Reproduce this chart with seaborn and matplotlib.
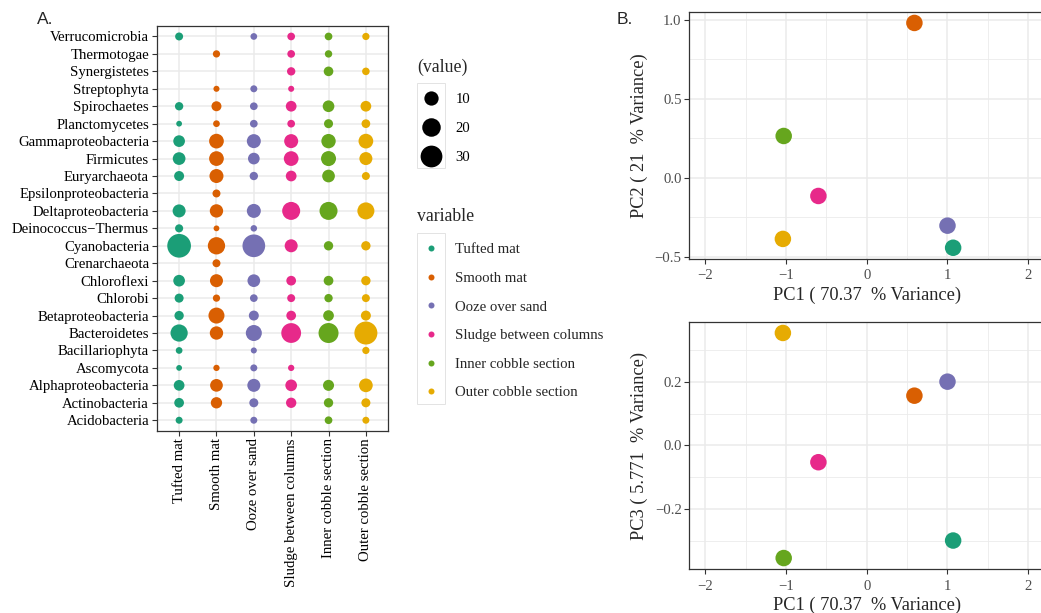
import numpy as np
import pandas as pd
import matplotlib
matplotlib.use("Agg")
import matplotlib.pyplot as plt
from matplotlib.lines import Line2D
from matplotlib.patches import Rectangle
from matplotlib.ticker import FixedLocator
import seaborn as sns

# ---- data -------------------------------------------------------------
phyla = [
    "Acidobacteria", "Actinobacteria", "Alphaproteobacteria", "Ascomycota",
    "Bacillariophyta", "Bacteroidetes", "Betaproteobacteria", "Chlorobi",
    "Chloroflexi", "Crenarchaeota", "Cyanobacteria", "Deinococcus\u2212Thermus",
    "Deltaproteobacteria", "Epsilonproteobacteria", "Euryarchaeota", "Firmicutes",
    "Gammaproteobacteria", "Planctomycetes", "Spirochaetes", "Streptophyta",
    "Synergistetes", "Thermotogae", "Verrucomicrobia",
]
sites = ["Tufted mat", "Smooth mat", "Ooze over sand", "Sludge between columns",
         "Inner cobble section", "Outer cobble section"]
site_colors = ["#1B9E77", "#D95F02", "#7570B3", "#E7298A", "#66A61E", "#E6AB02"]

nan = np.nan
# relative abundance (%) per phylum, one list per site, phyla in the order above
tufted_mat = [0.85, 3.1, 4.3, 0.3, 0.7, 16.6, 2.7, 2.4, 5.6, nan, 36.8, 1.6,
              7.7, nan, 3.4, 7.2, 5.6, 0.3, 1.8, nan, nan, nan, 1.5]
smooth_mat = [nan, 5.1, 7.2, 0.5, nan, 8.3, 13.7, 1.0, 7.7, 1.5, 16.8, 0.3,
              8.3, 1.5, 9.5, 10.9, 10.9, 0.7, 3.4, 0.4, nan, 1.0, nan]
ooze_over_sand = [0.85, 2.4, 7.7, 0.85, 0.4, 13.7, 3.4, 1.3, 7.2, nan, 33.2, 0.6,
                  9.5, nan, 1.8, 5.6, 9.5, 1.3, 1.3, 0.85, nan, nan, 0.7]
sludge_between_columns = [nan, 3.8, 5.6, 0.5, nan, 23.7, 3.1, 1.5, 3.1, nan, 7.7, nan,
                          18.6, nan, 4.3, 10.9, 9.5, 1.3, 4.3, 0.4, 1.8, 1.3, 1.3]
inner_cobble = [1.3, 2.7, 4.7, nan, nan, 24.3, 4.3, 1.8, 3.1, nan, 2.7, nan,
                18.6, nan, 7.2, 11.5, 10.2, 2.4, 5.6, nan, 3.0, 1.1, 1.3]
outer_cobble = [0.85, 2.4, 8.9, nan, 1.0, 34.3, 3.4, 1.5, 2.7, nan, 2.7, nan,
                16.1, nan, 1.5, 7.7, 10.9, 2.1, 4.3, nan, 1.2, nan, 1.0]

# principal component scores, one per site (same order as `sites`)
pc1 = [1.07, 0.59, 1.00, -0.60, -1.03, -1.04]
pc2 = [-0.443, 0.981, -0.303, -0.115, 0.265, -0.387]
pc3 = [-0.299, 0.156, 0.200, -0.053, -0.354, 0.353]
pc_var = {"PC1": "70.37", "PC2": "21", "PC3": "5.771"}

size_breaks = [10, 20, 30]

# ---- styling helpers --------------------------------------------------
sns.set_theme(style="white")
plt.rcParams["font.family"] = ["Liberation Serif", "DejaVu Serif"]
plt.rcParams["axes.unicode_minus"] = True

W, H, DPI = 1041, 613, 100
PX = 72.0 / DPI          # points per pixel
GRID = "#EBEBEB"
FRAME = "#333333"
TICKTXT = "#4D4D4D"
palette = dict(zip(sites, site_colors))


def bubble_diameter_pt(v):
    """Area-style size scale: diameter grows with sqrt of the value."""
    return (4.0 + 20.0 * np.sqrt(v / 38.0)) * PX


def bubble_area(v):
    return bubble_diameter_pt(v) ** 2


def style_frame(ax):
    for sp in ax.spines.values():
        sp.set_visible(True)
        sp.set_color(FRAME)
        sp.set_linewidth(0.9)
    ax.tick_params(which="major", direction="out", length=3.5, width=0.8,
                   color=FRAME, pad=2, bottom=True, left=True,
                   top=False, right=False)
    ax.tick_params(which="minor", length=0)
    ax.set_axisbelow(True)


fig = plt.figure(figsize=(W / DPI, H / DPI), dpi=DPI)
fig.patch.set_facecolor("white")

# ---- panel A: bubble chart -------------------------------------------
abund = pd.DataFrame({
    sites[0]: tufted_mat, sites[1]: smooth_mat, sites[2]: ooze_over_sand,
    sites[3]: sludge_between_columns, sites[4]: inner_cobble, sites[5]: outer_cobble,
}, index=phyla)
long = (abund.reset_index(names="phylum")
        .melt(id_vars="phylum", var_name="site", value_name="value")
        .dropna())
long["row"] = long["phylum"].map({p: i for i, p in enumerate(phyla)})
long["col"] = long["site"].map({s: i for i, s in enumerate(sites)})
size_lookup = {v: bubble_area(v) for v in long["value"].unique()}

axA = fig.add_axes([156.7 / W, 1 - 430.7 / H, 231.6 / W, 404.7 / H])
sns.scatterplot(data=long, x="col", y="row", hue="site", hue_order=sites,
                palette=palette, size="value", sizes=size_lookup,
                linewidth=0, alpha=1, legend=False, ax=axA, zorder=3)
axA.set_xlim(-0.6, len(sites) - 0.4)
axA.set_ylim(-0.6, len(phyla) - 0.4)
axA.set_xticks(range(len(sites)))
axA.set_xticklabels(sites, rotation=90, ha="center", va="top",
                    fontsize=10.6, color="black")
axA.set_yticks(range(len(phyla)))
axA.set_yticklabels(phyla, fontsize=10.6, color="black")
axA.set_xlabel("")
axA.set_ylabel("")
axA.grid(True, which="major", color=GRID, linewidth=1.1)
style_frame(axA)

# legends for panel A
size_handles = [Line2D([], [], marker="o", linestyle="", color="black",
                       markeredgewidth=0, markersize=bubble_diameter_pt(b))
                for b in size_breaks]
leg1 = fig.legend(handles=size_handles, labels=[str(b) for b in size_breaks],
                  title="(value)", loc="upper left",
                  bbox_to_anchor=(417 / W, 1 - 59 / H), frameon=False,
                  borderpad=0, borderaxespad=0, alignment="left",
                  handlelength=1.9, handletextpad=0.7, labelspacing=1.05,
                  fontsize=10.6, title_fontsize=12.8)
leg1._legend_box.sep = 12
for t in leg1.get_texts():
    t.set_color("black")

color_handles = [Line2D([], [], marker="o", linestyle="", color=c,
                        markeredgewidth=0, markersize=6 * PX)
                 for c in site_colors]
leg2 = fig.legend(handles=color_handles, labels=sites, title="variable",
                  loc="upper left", bbox_to_anchor=(417 / W, 1 - 208 / H),
                  frameon=False, borderpad=0, borderaxespad=0,
                  alignment="left", handlelength=1.9, handletextpad=0.7,
                  labelspacing=1.04, fontsize=10.6, title_fontsize=12.8)
leg2._legend_box.sep = 13

# light key boxes, as in the classic bw theme
for top, bottom in [(82.7, 168.3), (232.7, 404.0)]:
    fig.add_artist(Rectangle((417 / W, 1 - bottom / H), 28 / W,
                             (bottom - top) / H, transform=fig.transFigure,
                             fill=False, edgecolor="#E3E3E3", linewidth=0.7))

# ---- panel B: PCA scatter plots ---------------------------------------
pca = pd.DataFrame({"site": sites, "PC1": pc1, "PC2": pc2, "PC3": pc3})


def pca_panel(rect, ycol, yticks, yminor):
    ax = fig.add_axes(rect)
    sns.scatterplot(data=pca, x="PC1", y=ycol, hue="site", hue_order=sites,
                    palette=palette, s=(16.5 * PX) ** 2, linewidth=0,
                    legend=False, ax=ax, zorder=3)
    lo, hi = pca[ycol].min(), pca[ycol].max()
    pad = (hi - lo) * 0.05
    ax.set_ylim(lo - pad, hi + pad)
    ax.set_xlim(-2.2, 2.2)
    ax.set_xticks([-2, -1, 0, 1, 2])
    ax.xaxis.set_minor_locator(FixedLocator([-1.5, -0.5, 0.5, 1.5]))
    ax.set_yticks(yticks)
    ax.yaxis.set_minor_locator(FixedLocator(yminor))
    ax.grid(True, which="major", color=GRID, linewidth=1.1)
    ax.grid(True, which="minor", color=GRID, linewidth=0.6)
    style_frame(ax)
    ax.tick_params(labelsize=10.6, labelcolor=TICKTXT)
    ax.tick_params(axis="x", pad=4)
    ax.set_xlabel(f"PC1 ( {pc_var['PC1']}  % Variance)", fontsize=13.2,
                  labelpad=3)
    ax.set_ylabel(f"{ycol} ( {pc_var[ycol]}  % Variance)", fontsize=13.2,
                  labelpad=5)
    return ax


axB1 = pca_panel([689.3 / W, 1 - 259 / H, 355 / W, 247.3 / H], "PC2",
                 [-0.5, 0.0, 0.5, 1.0], [-0.25, 0.25, 0.75])
axB2 = pca_panel([689.3 / W, 1 - 569.3 / H, 355 / W, 247.6 / H], "PC3",
                 [-0.2, 0.0, 0.2], [-0.3, -0.1, 0.1, 0.3])

# panel tags
fig.text(36.5 / W, 1 - 19 / H, "A.", fontsize=12.5, va="center", ha="left",
         family=["Liberation Sans", "DejaVu Sans"])
fig.text(616.5 / W, 1 - 19 / H, "B.", fontsize=12.5, va="center", ha="left",
         family=["Liberation Sans", "DejaVu Sans"])

fig.savefig("out.png", dpi=DPI, facecolor="white")
